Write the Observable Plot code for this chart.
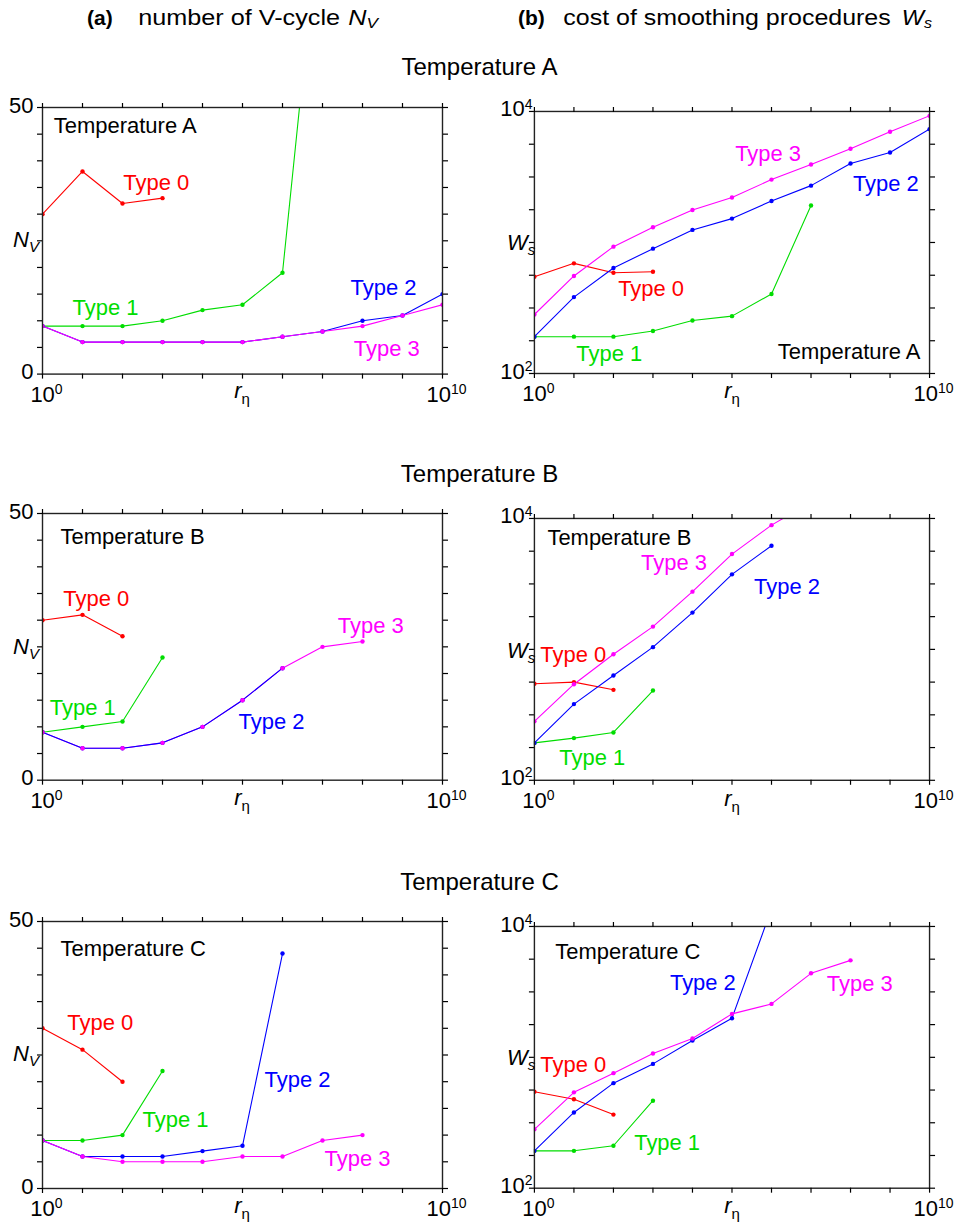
<!DOCTYPE html>
<html>
<head>
<meta charset="utf-8">
<script src="https://cdn.jsdelivr.net/npm/d3@7"></script>
<script src="https://cdn.jsdelivr.net/npm/@observablehq/plot@0.6"></script>
<style>
  body { margin: 0; background: #fff; }
  #root { position: relative; width: 959px; height: 1224px; overflow: hidden; background: #fff; }
  .panel { position: absolute; }
  #overlay { position: absolute; left: 0; top: 0; pointer-events: none; }
</style>
</head>
<body>
<div id="root"></div>
<script>
// ---------- data ----------
const rEta = [1, 1e1, 1e2, 1e3, 1e4, 1e5, 1e6, 1e7, 1e8, 1e9, 1e10];
const rEtaTickLabels = [1, 1e10];
const nvTicks = [0, 5, 10, 15, 20, 25, 30, 35, 40, 45, 50];
const nvTickLabels = [0, 50];
const wsTicks = [100, 177.83, 316.23, 562.34, 1000, 1778.3, 3162.3, 5623.4, 10000];
const wsTickLabels = [100, 10000];

const temperatures = ["Temperature A", "Temperature B", "Temperature C"];
const types = ["Type 0", "Type 1", "Type 2", "Type 3"];
const typeColors = ["#ff0000", "#00dd00", "#0000ff", "#ff00ff"];

// number of V-cycle N_V (series index = type)
const nvA = [
  [30, 38, 32, 33],
  [9, 9, 9, 10, 12, 13, 19, 92],
  [9, 6, 6, 6, 6, 6, 7, 8, 10, 11, 15],
  [9, 6, 6, 6, 6, 6, 7, 8, 9, 11, 13]
];
const nvB = [
  [30, 31, 27],
  [9, 10, 11, 23],
  [9, 6, 6, 7, 10, 15, 21],
  [9, 6, 6, 7, 10, 15, 21, 25, 26]
];
const nvC = [
  [30, 26, 20],
  [9, 9, 10, 22],
  [9, 6, 6, 6, 7, 8, 44],
  [9, 6, 5, 5, 5, 6, 6, 9, 10]
];

// cost of smoothing procedures W_s
const wsA = [
  [548, 693, 587, 598],
  [191, 191, 191, 211, 254, 274, 404, 1914],
  [191, 383, 638, 897, 1247, 1521, 2075, 2716, 4009, 4864, 7328],
  [282, 555, 929, 1306, 1770, 2203, 3020, 3936, 5188, 6998, 9268]
];
const wsB = [
  [546, 562, 491],
  [193, 210, 232, 485],
  [193, 382, 631, 1040, 1910, 3741, 6194],
  [282, 542, 918, 1493, 2761, 5346, 8892, 13300]
];
const wsC = [
  [546, 478, 365],
  [193, 193, 211, 466],
  [193, 379, 635, 891, 1343, 1991, 13650],
  [282, 540, 757, 1069, 1393, 2148, 2559, 4385, 5508]
];

// in-panel annotations: e = log10(r_eta), v = value; type -1 = temperature name
const nvNotesA = [{type: 0, e: 2.02, v: 35.9}, {type: 1, e: 0.75, v: 12.4}, {type: 2, e: 7.7, v: 16.2}, {type: 3, e: 7.78, v: 4.8}, {type: -1, e: 0.28, v: 46.5}];
const nvNotesB = [{type: 0, e: 0.52, v: 33.9}, {type: 1, e: 0.18, v: 13.5}, {type: 2, e: 4.9, v: 10.9}, {type: 3, e: 7.38, v: 28.9}, {type: -1, e: 0.45, v: 45.6}];
const nvNotesC = [{type: 0, e: 0.62, v: 31.0}, {type: 1, e: 2.5, v: 12.9}, {type: 2, e: 5.55, v: 20.4}, {type: 3, e: 7.05, v: 5.6}, {type: -1, e: 0.45, v: 44.9}];
const wsNotesA = [{type: 0, e: 2.12, v: 438}, {type: 1, e: 1.06, v: 140}, {type: 2, e: 8.06, v: 2812}, {type: 3, e: 5.08, v: 4764}, {type: -1, e: 6.16, v: 145}];
const wsNotesB = [{type: 0, e: 0.15, v: 908}, {type: 1, e: 0.63, v: 149}, {type: 2, e: 5.56, v: 2992}, {type: 3, e: 2.70, v: 4560}, {type: -1, e: 0.33, v: 7079}];
const wsNotesC = [{type: 0, e: 0.15, v: 871}, {type: 1, e: 2.525, v: 221}, {type: 2, e: 3.43, v: 3673}, {type: 3, e: 7.40, v: 3614}, {type: -1, e: 0.53, v: 6339}];

// ---------- layout ----------
const fontFamily = '"Liberation Sans", Arial, Helvetica, sans-serif';
const frames = {
  a: [{L: 42, R: 442, T: 106.7, B: 373.3}, {L: 42, R: 442, T: 513.3, B: 780}, {L: 42, R: 442, T: 920.7, B: 1187.7}],
  b: [{L: 534, R: 930, T: 110.7, B: 373.3}, {L: 534, R: 930, T: 518.3, B: 780.7}, {L: 534, R: 930, T: 926, B: 1188.3}]
};
const lineOrders = [[0, 1, 2, 3], [0, 1, 3, 2], [0, 1, 2, 3]];
const root = document.getElementById("root");

function supify(svg) {
  d3.select(svg).selectAll("text").each(function () {
    const m = /^10\^(\d+)$/.exec(this.textContent);
    if (!m) return;
    const el = d3.select(this);
    el.text(null);
    el.append("tspan").text("10");
    el.append("tspan").attr("font-size", 14).attr("dy", -8).text(m[1]);
  });
}

function makePanel(kind, row) {
  const f = frames[kind][row];
  const isLog = kind === "b";
  const series = isLog ? [wsA, wsB, wsC][row] : [nvA, nvB, nvC][row];
  const notes = isLog ? [wsNotesA, wsNotesB, wsNotesC][row] : [nvNotesA, nvNotesB, nvNotesC][row];
  const mL = 42, mR = 30, mT = 16, mB = 42;
  const marks = [];
  for (const i of lineOrders[row]) {
    const data = series[i].map((v, j) => ({r: rEta[j], v}));
    marks.push(Plot.line(data, {x: "r", y: "v", stroke: typeColors[i], strokeWidth: 1.1, clip: true}));
  }
  for (let i = 0; i < 4; i++) {
    const data = series[i].map((v, j) => ({r: rEta[j], v}));
    marks.push(Plot.dot(data, {x: "r", y: "v", r: 2.2, fill: typeColors[i], clip: true}));
  }
  const yT = isLog ? wsTicks : nvTicks;
  const yL = isLog ? wsTickLabels : nvTickLabels;
  marks.push(
    Plot.frame({stroke: "#222", strokeWidth: 1.4}),
    Plot.axisX(rEta, {anchor: "bottom", tickSize: 5, strokeWidth: 1.2, tickFormat: () => "", label: null}),
    Plot.axisX(rEta, {anchor: "top", tickSize: 5, strokeWidth: 1.2, tickFormat: () => "", label: null}),
    Plot.axisY(yT, {anchor: "left", tickSize: 5, strokeWidth: 1.2, tickFormat: () => "", label: null}),
    Plot.axisY(yT, {anchor: "right", tickSize: 5, strokeWidth: 1.2, tickFormat: () => "", label: null}),
    Plot.axisX(rEtaTickLabels, {anchor: "bottom", tickSize: 0, tickPadding: 12, dx: 4, label: null,
      tickFormat: d => "10^" + Math.round(Math.log10(d))}),
    Plot.axisY(yL, {anchor: "left", tickSize: 0, tickPadding: isLog ? 2 : 9, dy: -2, label: null,
      tickFormat: d => isLog ? "10^" + Math.round(Math.log10(d)) : String(d)})
  );
  for (const n of notes) {
    marks.push(Plot.text([n], {
      x: d => 10 ** d.e, y: "v",
      text: d => d.type < 0 ? temperatures[row] : types[d.type],
      fill: n.type < 0 ? "#000" : typeColors[n.type],
      textAnchor: "start", fontSize: 22
    }));
  }
  const svg = Plot.plot({
    width: f.R - f.L + mL + mR,
    height: f.B - f.T + mT + mB,
    marginLeft: mL, marginRight: mR, marginTop: mT, marginBottom: mB,
    style: {fontFamily, fontSize: "22px", background: "transparent", overflow: "visible", color: "#000"},
    x: {type: "log", domain: [1, 1e10]},
    y: isLog ? {type: "log", domain: [100, 10000]} : {type: "linear", domain: [0, 50]},
    marks
  });
  supify(svg);
  const div = document.createElement("div");
  div.className = "panel";
  div.style.left = (f.L - mL) + "px";
  div.style.top = (f.T - mT) + "px";
  div.appendChild(svg);
  root.appendChild(div);
}

for (let row = 0; row < 3; row++) { makePanel("a", row); makePanel("b", row); }

// ---------- overlay text ----------
const ov = d3.select(root).append("svg").attr("id", "overlay")
  .attr("width", 959).attr("height", 1224).style("font-family", fontFamily);

function addText(x, y, parts, anchor = "start", size = 22, len = null) {
  const t = ov.append("text").attr("x", x).attr("y", y).attr("text-anchor", anchor)
    .attr("font-size", size).attr("fill", "#000");
  if (len) t.attr("textLength", len).attr("lengthAdjust", "spacingAndGlyphs");
  for (const p of parts) {
    const s = t.append("tspan").text(p.text);
    if (p.bold) s.attr("font-weight", "bold");
    if (p.italic) s.attr("font-style", "italic");
    if (p.size) s.attr("font-size", p.size);
    if (p.dy) s.attr("dy", p.dy);
  }
}

addText(87, 25, [{text: "(a)", bold: true}], "start", 21);
addText(138.3, 25, [{text: "number of V-cycle"}], "start", 22, 201.7);
addText(348.3, 25, [{text: "N", italic: true}, {text: "V", italic: true, size: 15, dy: 3}], "start", 22, 29.7);
addText(518, 25, [{text: "(b)", bold: true}], "start", 21);
addText(563.3, 25, [{text: "cost of smoothing procedures"}], "start", 22, 327.4);
addText(901.7, 25, [{text: "W", italic: true}, {text: "s", italic: true, size: 15, dy: 3}], "start", 22, 30.3);

const rowTitleBaselines = [75, 481.7, 890];
rowTitleBaselines.forEach((y, i) => addText(479.5, y, [{text: temperatures[i]}], "middle", 24));

for (let row = 0; row < 3; row++) {
  const fa = frames.a[row], fb = frames.b[row];
  const ca = (fa.T + fa.B) / 2, cb = (fb.T + fb.B) / 2;
  addText(13, ca + 7, [{text: "N", italic: true}, {text: "V", italic: true, size: 15, dy: 5}]);
  addText(507, cb + 8, [{text: "W", italic: true}, {text: "s", italic: true, size: 15, dy: 5}]);
  addText((fa.L + fa.R) / 2, fa.B + 25, [{text: "r", italic: true}, {text: "η", size: 15, dy: 6}], "middle");
  addText((fb.L + fb.R) / 2, fb.B + 25, [{text: "r", italic: true}, {text: "η", size: 15, dy: 6}], "middle");
}
</script>
</body>
</html>
